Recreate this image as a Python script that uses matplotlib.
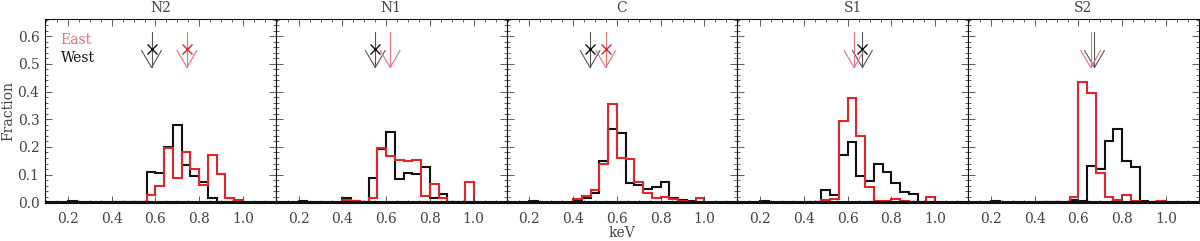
"""Energy histograms (East vs West) for the five regions N2, N1, C, S1, S2."""

import matplotlib

matplotlib.use("Agg")
import matplotlib.pyplot as plt  # noqa: E402
from matplotlib.ticker import MultipleLocator  # noqa: E402

plt.rcParams["font.family"] = ["DejaVu Serif"]
plt.rcParams["font.size"] = 10

# bins of 0.04 keV, first bin starts at 0.40 keV
bin_edges = [0.40, 0.44, 0.48, 0.52, 0.56, 0.60, 0.64, 0.68, 0.72,
             0.76, 0.80, 0.84, 0.88, 0.92, 0.96, 1.00]

regions = ["N2", "N1", "C", "S1", "S2"]

east_n2 = [0, 0, 0, 0, 0.027, 0.059, 0.195, 0.087, 0.181, 0.119, 0.062, 0.170, 0.103, 0.014, 0.008]
west_n2 = [0, 0, 0, 0, 0.110, 0.106, 0.200, 0.280, 0.136, 0.095, 0.074, 0.016, 0, 0, 0]

east_n1 = [0.008, 0.003, 0, 0.016, 0.195, 0.167, 0.151, 0.148, 0.152, 0.023, 0.067, 0.015, 0, 0, 0.074]
west_n1 = [0.015, 0.005, 0, 0.087, 0.193, 0.255, 0.083, 0.107, 0.101, 0.127, 0.017, 0.030, 0, 0, 0]

east_c = [0.013, 0.023, 0.043, 0.138, 0.355, 0.161, 0.155, 0.073, 0.033, 0.015, 0.019, 0.011, 0.005, 0, 0.016]
west_c = [0.005, 0.017, 0.033, 0.149, 0.263, 0.251, 0.068, 0.062, 0.047, 0.055, 0.073, 0.017, 0.008, 0.003, 0]

east_s1 = [0, 0, 0.008, 0.012, 0.292, 0.377, 0.239, 0.056, 0.003, 0.003, 0.011, 0.003, 0, 0, 0.019]
west_s1 = [0, 0, 0.043, 0.027, 0.172, 0.218, 0.095, 0.077, 0.140, 0.111, 0.068, 0.038, 0.031, 0, 0]

east_s2 = [0, 0, 0, 0, 0.020, 0.436, 0.394, 0.107, 0.020, 0.008, 0.026, 0.003, 0, 0, 0.005]
west_s2 = [0, 0, 0, 0, 0.007, 0.003, 0.131, 0.119, 0.221, 0.266, 0.149, 0.127, 0.004, 0.002, 0.003]

# tiny West count near 0.2 keV, seen in every panel
west_low_edges = [0.20, 0.24]
west_low = [0.004]

# mean energies marked with arrows (keV); flag = cross drawn on the arrow
east_arrow = [0.744, 0.618, 0.549, 0.629, 0.656]
west_arrow = [0.582, 0.550, 0.477, 0.667, 0.673]
east_cross = [True, False, True, False, False]
west_cross = [True, True, True, True, False]

east_vals = [east_n2, east_n1, east_c, east_s1, east_s2]
west_vals = [west_n2, west_n1, west_c, west_s1, west_s2]

RED = "#e3242b"
RED_LIGHT = "#e8707a"
BLACK = "#111111"
GREY = "#555555"
TEXT = "#444444"


def draw_arrow(ax, x, color, cross_color, cross):
    top, head, tip, half = 0.614, 0.548, 0.487, 0.045
    ax.plot([x, x], [top, tip], color=color, lw=0.8)
    ax.plot([x - half, x, x + half], [head, tip, head], color=color, lw=0.8)
    if cross:
        ax.plot([x], [0.555], marker="x", ms=7, mew=1.0, color=cross_color, ls="none")


fig, axes = plt.subplots(1, 5, figsize=(12, 2.41), dpi=100, sharey=True)
fig.subplots_adjust(left=0.0375, right=0.999, top=0.921, bottom=0.156, wspace=0)

for i, ax in enumerate(axes):
    ax.axhline(0, color=BLACK, lw=1.5)
    ax.stairs(west_low, west_low_edges, color=BLACK, lw=1.5)
    ax.stairs(west_vals[i], bin_edges, color=BLACK, lw=1.5)
    ax.stairs(east_vals[i], bin_edges, color=RED, lw=1.5)

    draw_arrow(ax, west_arrow[i], GREY, BLACK, west_cross[i])
    draw_arrow(ax, east_arrow[i], RED_LIGHT, RED, east_cross[i])

    ax.set_xlim(0.095, 1.15)
    ax.set_ylim(-0.004, 0.662)
    ax.set_title(regions[i], color=TEXT, fontsize=10, pad=5)

    ax.xaxis.set_major_locator(MultipleLocator(0.2))
    ax.xaxis.set_minor_locator(MultipleLocator(0.05))
    ax.yaxis.set_major_locator(MultipleLocator(0.1))
    ax.yaxis.set_minor_locator(MultipleLocator(0.02))
    ax.tick_params(which="both", direction="in", top=True, right=True,
                   colors=TEXT, labelcolor=TEXT, width=0.6)
    ax.tick_params(which="major", length=5, pad=6)
    ax.tick_params(which="minor", length=2.5)
    ax.set_xticks([0.2, 0.4, 0.6, 0.8, 1.0])
    ax.set_xticklabels(["0.2", "0.4", "0.6", "0.8", "1.0"])
    for side in ax.spines.values():
        side.set_color(BLACK)
        side.set_linewidth(0.8)

axes[0].set_yticks([0.0, 0.1, 0.2, 0.3, 0.4, 0.5, 0.6])
axes[0].set_yticklabels(["0.0", "0.1", "0.2", "0.3", "0.4", "0.5", "0.6"])
axes[0].tick_params(axis="y", which="major", pad=4)
axes[0].set_ylabel("Fraction", color=TEXT)
axes[0].yaxis.set_label_coords(-0.128, 0.5)
axes[2].set_xlabel("keV", color=TEXT, labelpad=0)

axes[0].text(0.167, 0.586, "East", color=RED_LIGHT, ha="left", va="center")
axes[0].text(0.167, 0.522, "West", color=BLACK, ha="left", va="center")

fig.savefig("out.png", dpi=100)
